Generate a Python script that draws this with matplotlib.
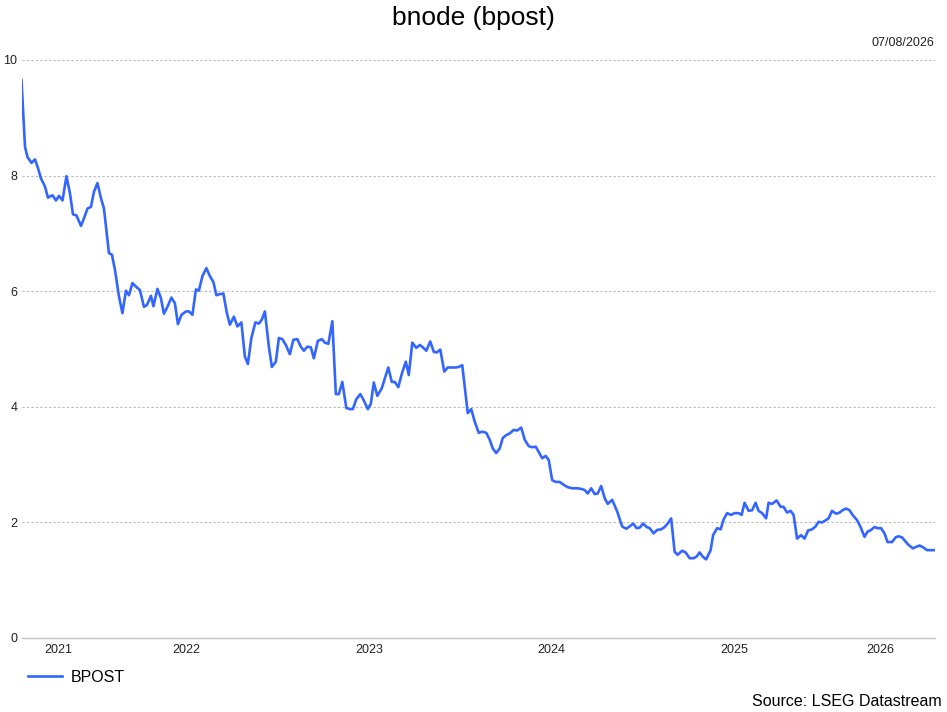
import matplotlib
matplotlib.use("Agg")
import matplotlib.pyplot as plt
from matplotlib.lines import Line2D
import pandas as pd

plt.rcParams['font.family'] = ['Liberation Sans', 'DejaVu Sans']

start_date = '2021-08-06'
days_since_start = [
    0, 7, 12, 20, 27, 33, 39, 47, 53, 62, 69, 75, 82, 90, 97, 103, 110, 119, 125, 132,
    139, 145, 152, 159, 165, 175, 181, 187, 195, 202, 209, 215, 222, 229, 237, 245, 251, 259, 264, 272,
    279, 285, 292, 300, 307, 313, 320, 329, 335, 342, 349, 355, 362, 370, 377, 384, 390, 397, 404, 411,
    417, 425, 432, 440, 447, 453, 460, 468, 475, 481, 487, 495, 501, 509, 515, 522, 529, 537, 544, 552,
    559, 565, 572, 579, 585, 593, 601, 607, 614, 622, 629, 635, 642, 650, 657, 663, 670, 678, 685, 693,
    699, 705, 712, 721, 727, 734, 741, 747, 754, 761, 769, 775, 782, 790, 797, 803, 810, 818, 825, 831,
    838, 846, 853, 861, 869, 875, 882, 893, 900, 907, 915, 922, 930, 937, 943, 950, 957, 963, 970, 977,
    985, 992, 1000, 1007, 1015, 1022, 1029, 1035, 1042, 1049, 1055, 1062, 1069, 1077, 1085, 1093, 1102, 1112, 1120, 1127,
    1133, 1140, 1147, 1153, 1160, 1167, 1173, 1182, 1192, 1202, 1210, 1217, 1224, 1231, 1237, 1244, 1251, 1257, 1265, 1272,
    1280, 1287, 1293, 1300, 1307, 1313, 1322, 1329, 1337, 1345, 1351, 1357, 1363, 1370, 1379, 1384, 1392, 1399, 1405, 1412,
    1420, 1427, 1435, 1441, 1447, 1455, 1462, 1469, 1475, 1482, 1490, 1495, 1502, 1511, 1519, 1525, 1532, 1539, 1545, 1552,
    1560, 1567, 1574, 1582, 1589, 1595, 1602, 1610, 1615, 1622, 1630, 1637, 1643, 1650, 1657, 1663, 1672, 1679, 1687, 1693,
    1700, 1707, 1713, 1720, 1727, 1733, 1742, 1749, 1755, 1762, 1769, 1775, 1784, 1791, 1797, 1804, 1812, 1819, 1827,
]
bpost = [
    9.65, 8.50, 8.32, 8.22, 8.28, 8.13, 7.95, 7.81, 7.62, 7.66, 7.57, 7.65, 7.57, 7.99, 7.69, 7.33, 7.31, 7.13, 7.26, 7.43,
    7.46, 7.72, 7.87, 7.61, 7.43, 6.66, 6.63, 6.37, 5.91, 5.62, 6.01, 5.93, 6.14, 6.08, 6.02, 5.73, 5.76, 5.92, 5.74, 6.04,
    5.88, 5.61, 5.73, 5.89, 5.79, 5.43, 5.59, 5.65, 5.65, 5.59, 6.03, 6.01, 6.26, 6.40, 6.26, 6.16, 5.93, 5.95, 5.96, 5.62,
    5.42, 5.56, 5.39, 5.46, 4.87, 4.74, 5.19, 5.46, 5.44, 5.51, 5.65, 5.04, 4.69, 4.78, 5.19, 5.17, 5.07, 4.91, 5.16, 5.17,
    5.04, 4.97, 5.04, 5.03, 4.84, 5.14, 5.17, 5.11, 5.09, 5.48, 4.22, 4.22, 4.43, 3.98, 3.96, 3.96, 4.13, 4.22, 4.11, 3.96,
    4.05, 4.42, 4.19, 4.32, 4.49, 4.68, 4.43, 4.43, 4.34, 4.57, 4.78, 4.55, 5.11, 5.02, 5.07, 5.03, 4.97, 5.13, 4.95, 4.94,
    4.99, 4.61, 4.68, 4.68, 4.68, 4.69, 4.72, 3.89, 3.96, 3.74, 3.55, 3.57, 3.55, 3.43, 3.28, 3.20, 3.28, 3.46, 3.51, 3.54,
    3.60, 3.59, 3.64, 3.43, 3.32, 3.30, 3.31, 3.22, 3.11, 3.15, 3.08, 2.73, 2.70, 2.70, 2.65, 2.61, 2.59, 2.59, 2.58, 2.56,
    2.50, 2.59, 2.49, 2.50, 2.63, 2.42, 2.32, 2.39, 2.19, 1.93, 1.89, 1.93, 1.98, 1.90, 1.91, 1.98, 1.92, 1.90, 1.81, 1.87,
    1.88, 1.92, 1.98, 2.07, 1.49, 1.44, 1.51, 1.48, 1.38, 1.38, 1.41, 1.48, 1.41, 1.36, 1.52, 1.78, 1.90, 1.88, 2.05, 2.16,
    2.13, 2.16, 2.16, 2.13, 2.34, 2.20, 2.21, 2.34, 2.20, 2.16, 2.07, 2.34, 2.32, 2.38, 2.27, 2.27, 2.17, 2.20, 2.13, 1.72,
    1.78, 1.72, 1.86, 1.88, 1.93, 2.01, 2.00, 2.04, 2.07, 2.20, 2.15, 2.17, 2.21, 2.24, 2.21, 2.13, 2.04, 1.92, 1.75, 1.84,
    1.87, 1.92, 1.90, 1.90, 1.81, 1.66, 1.66, 1.74, 1.76, 1.74, 1.67, 1.61, 1.55, 1.58, 1.60, 1.57, 1.52, 1.52, 1.52,
]
y_ticks = [0, 2, 4, 6, 8, 10]

dates = pd.Timestamp(start_date) + pd.to_timedelta(days_since_start, unit='D')

fig = plt.figure(figsize=(9.47, 7.12), dpi=100)
ax = fig.add_axes([21.5 / 947, 74 / 712, 913 / 947, 578 / 712])

line_color = '#3366ff'
ax.plot(dates, bpost, color=line_color, lw=1.9, solid_joinstyle='round')

ax.set_xlim(dates[0], dates[-1])
ax.set_ylim(0, 10)
ax.set_yticks(y_ticks)
ax.yaxis.grid(True, color='#b8b8b8', linestyle=(0, (2, 2)), lw=0.8)
ax.set_axisbelow(True)

# year labels sit in the middle of the visible part of each year
first, last = dates[0], dates[-1]
mids, labels = [], []
for yr in range(first.year, last.year + 1):
    a = max(first, pd.Timestamp(yr, 1, 1))
    b = min(last, pd.Timestamp(yr + 1, 1, 1))
    mids.append(a + (b - a) / 2)
    labels.append(str(yr))
ax.set_xticks(mids, labels)

ax.tick_params(axis='both', length=0, labelsize=9, colors='#222222')
ax.tick_params(axis='x', pad=4)
ax.tick_params(axis='y', pad=3)
for s in ['top', 'right', 'left']:
    ax.spines[s].set_visible(False)
ax.spines['bottom'].set_color('#c4c4c4')
ax.spines['bottom'].set_linewidth(1)

fig.text(0.5, 1 - 18 / 712, 'bnode (bpost)', ha='center', va='center', fontsize=19)
fig.text(934 / 947, 1 - 43 / 712, '07/08/2026', ha='right', va='center', fontsize=9, color='#222222')
fig.text(942 / 947, 1 - 701 / 712, 'Source: LSEG Datastream', ha='right', va='center', fontsize=11.5)

handle = Line2D([], [], color=line_color, lw=1.9)
fig.legend([handle], ['BPOST'], loc='center left', bbox_to_anchor=(28 / 947, 1 - 677 / 712),
           frameon=False, fontsize=11.5, handlelength=2.1, handletextpad=0.55,
           borderpad=0, borderaxespad=0)

fig.savefig('out.png', dpi=100)
